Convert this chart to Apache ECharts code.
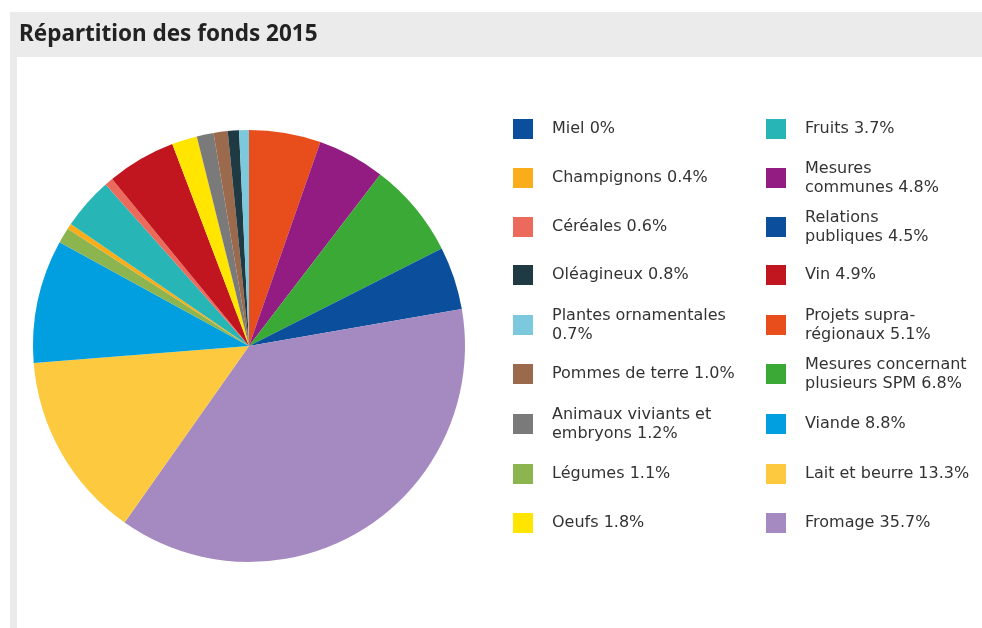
<!DOCTYPE html>
<html>
<head>
<meta charset="utf-8">
<script src="https://cdn.jsdelivr.net/npm/echarts@6/dist/echarts.min.js"></script>
<style>
html,body{margin:0;padding:0;background:#fff;}
#chart{width:982px;height:628px;}
</style>
</head>
<body>
<div id="chart"></div>
<script>
// Pie slices in drawing order (clockwise from top)
const categories = ['Projets supra-régionaux','Mesures communes','Mesures concernant plusieurs SPM','Relations publiques','Fromage','Lait et beurre','Viande','Légumes','Champignons','Fruits','Céréales','Vin','Oeufs','Animaux viviants et embryons','Pommes de terre','Oléagineux','Plantes ornamentales','Miel'];
const values = [5.1, 4.8, 6.8, 4.5, 35.7, 13.3, 8.8, 1.1, 0.4, 3.7, 0.6, 4.9, 1.8, 1.2, 1.0, 0.8, 0.7, 0];
const colors = ['#e84e1b','#931c82','#3aa935','#0b4f9c','#a48ac0','#fdc93e','#019fe0','#8db54f','#f9ad1b','#27b5b5','#ec6a5c','#c1151f','#ffe500','#7a7a7a','#9b6a4c','#1f3a43','#7cc8dc','#0b4f9c'];

// Legend columns (names) and their displayed texts
const legendCol1 = ['Miel','Champignons','Céréales','Oléagineux','Plantes ornamentales','Pommes de terre','Animaux viviants et embryons','Légumes','Oeufs'];
const legendCol2 = ['Fruits','Mesures communes','Relations publiques','Vin','Projets supra-régionaux','Mesures concernant plusieurs SPM','Viande','Lait et beurre','Fromage'];
const legendText = {
  'Miel': 'Miel 0%',
  'Champignons': 'Champignons 0.4%',
  'Céréales': 'Céréales 0.6%',
  'Oléagineux': 'Oléagineux 0.8%',
  'Plantes ornamentales': 'Plantes ornamentales\n0.7%',
  'Pommes de terre': 'Pommes de terre 1.0%',
  'Animaux viviants et embryons': 'Animaux viviants et\nembryons 1.2%',
  'Légumes': 'Légumes 1.1%',
  'Oeufs': 'Oeufs 1.8%',
  'Fruits': 'Fruits 3.7%',
  'Mesures communes': 'Mesures\ncommunes 4.8%',
  'Relations publiques': 'Relations\npubliques 4.5%',
  'Vin': 'Vin 4.9%',
  'Projets supra-régionaux': 'Projets supra-\nrégionaux 5.1%',
  'Mesures concernant plusieurs SPM': 'Mesures concernant\nplusieurs SPM 6.8%',
  'Viande': 'Viande 8.8%',
  'Lait et beurre': 'Lait et beurre 13.3%',
  'Fromage': 'Fromage 35.7%'
};
const title = 'Répartition des fonds 2015';

const chart = echarts.init(document.getElementById('chart'), null, {renderer: 'canvas'});

const rowCenters = [129, 178, 227, 275, 325, 374, 424, 474, 523];
const lineH = 19;
const legends = [];
function addCol(names, x) {
  names.forEach((n, i) => {
    const lines = legendText[n].split('\n').length;
    const h = Math.max(20, lines * lineH);
    legends.push({
      data: [n],
      left: x,
      top: rowCenters[i] - h / 2,
      orient: 'vertical',
      padding: 0,
      itemWidth: 20,
      itemHeight: 20,
      icon: 'rect',
      selectedMode: false,
      formatter: (name) => legendText[name],
      textStyle: {
        fontFamily: 'DejaVu Sans',
        fontSize: 16,
        color: '#333333',
        lineHeight: lineH,
        padding: [0, 0, 0, 14]
      }
    });
  });
}
addCol(legendCol1, 513);
addCol(legendCol2, 766);

chart.setOption({
  animation: false,
  backgroundColor: '#ffffff',
  color: colors,
  graphic: [
    {type: 'rect', shape: {x: 10, y: 12, width: 972, height: 45}, style: {fill: '#ebebeb'}, z: -10, silent: true},
    {type: 'rect', shape: {x: 10, y: 57, width: 7, height: 571}, style: {fill: '#ebebeb'}, z: -10, silent: true}
  ],
  title: {
    text: title,
    left: 19,
    top: 23,
    padding: 0,
    textStyle: {fontFamily: 'Noto Sans', fontWeight: 'bold', fontSize: 22.5, color: '#222'}
  },
  legend: legends,
  series: [{
    type: 'pie',
    center: [249, 346],
    radius: 216,
    startAngle: 90,
    clockwise: true,
    avoidLabelOverlap: false,
    label: {show: false},
    labelLine: {show: false},
    emphasis: {disabled: true},
    itemStyle: {borderWidth: 0},
    data: categories.map((c, i) => ({name: c, value: values[i], itemStyle: {color: colors[i]}}))
  }]
});
</script>
</body>
</html>
